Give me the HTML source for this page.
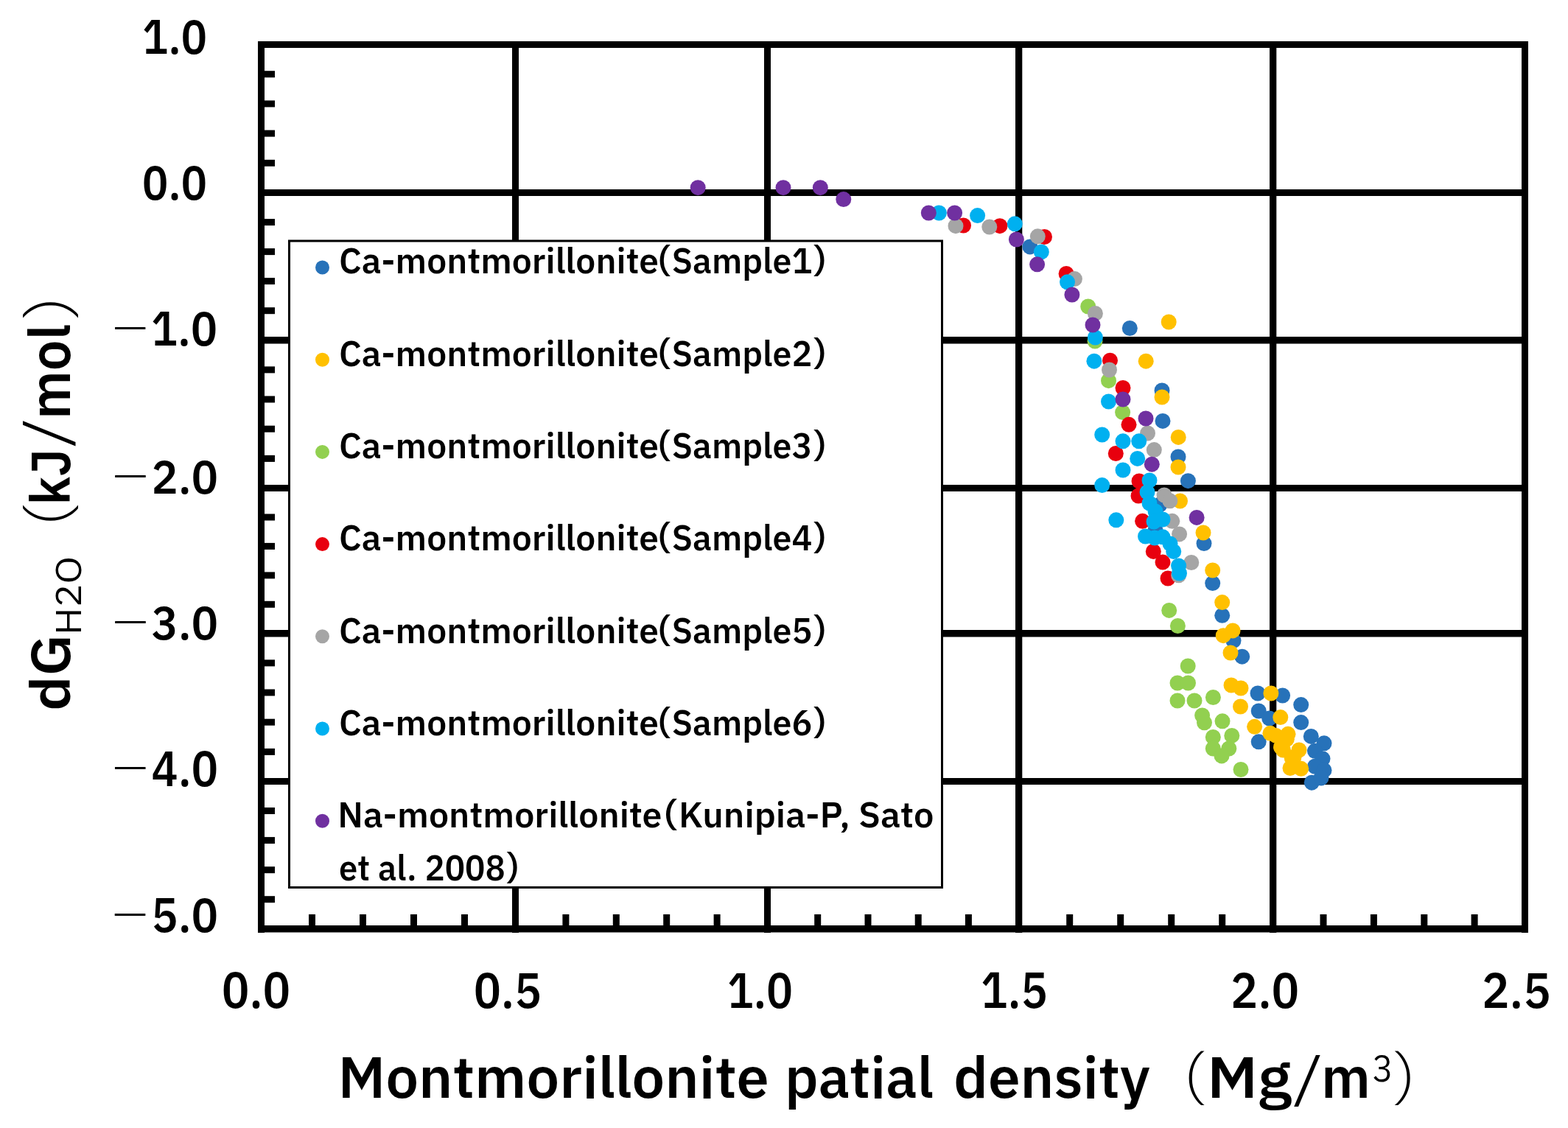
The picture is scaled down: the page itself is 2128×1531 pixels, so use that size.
<!DOCTYPE html><html><head><meta charset="utf-8"><title>dG H2O vs montmorillonite partial density</title>
<style>html,body{margin:0;padding:0;background:#fff;overflow:hidden}svg{display:block}text{fill:#000}</style></head><body>
<svg width="2128" height="1531" viewBox="0 0 2128 1531">
<rect x="0" y="0" width="2128" height="1531" fill="#fff"/>
<g fill="#000">
<rect x="350" y="56" width="1724" height="9"/>
<rect x="350" y="257" width="1724" height="9"/>
<rect x="350" y="457" width="1724" height="9.5"/>
<rect x="350" y="658" width="1724" height="9"/>
<rect x="350" y="855" width="1724" height="9.5"/>
<rect x="350" y="1056" width="1724" height="9"/>
<rect x="350" y="1256" width="1724" height="9.5"/>
<rect x="350" y="56" width="9" height="1210"/>
<rect x="695" y="56" width="9" height="1210"/>
<rect x="1037" y="56" width="9" height="1210"/>
<rect x="1378" y="56" width="9.3" height="1210"/>
<rect x="1723" y="56" width="9.3" height="1210"/>
<rect x="2065" y="56" width="9" height="1210"/>
<rect x="359" y="96.2" width="14" height="9"/>
<rect x="359" y="136.4" width="14" height="9"/>
<rect x="359" y="176.6" width="14" height="9"/>
<rect x="359" y="216.8" width="14" height="9"/>
<rect x="359" y="297.1" width="14" height="9"/>
<rect x="359" y="337.1" width="14" height="9"/>
<rect x="359" y="377.1" width="14" height="9"/>
<rect x="359" y="417.2" width="14" height="9"/>
<rect x="359" y="497.4" width="14" height="9"/>
<rect x="359" y="537.5" width="14" height="9"/>
<rect x="359" y="577.7" width="14" height="9"/>
<rect x="359" y="617.9" width="14" height="9"/>
<rect x="359" y="697.5" width="14" height="9"/>
<rect x="359" y="736.9" width="14" height="9"/>
<rect x="359" y="776.4" width="14" height="9"/>
<rect x="359" y="815.8" width="14" height="9"/>
<rect x="359" y="895.4" width="14" height="9"/>
<rect x="359" y="935.5" width="14" height="9"/>
<rect x="359" y="975.7" width="14" height="9"/>
<rect x="359" y="1015.9" width="14" height="9"/>
<rect x="359" y="1096.0" width="14" height="9"/>
<rect x="359" y="1136.1" width="14" height="9"/>
<rect x="359" y="1176.2" width="14" height="9"/>
<rect x="359" y="1216.2" width="14" height="9"/>
<rect x="419.0" y="1241" width="9" height="15"/>
<rect x="488.0" y="1241" width="9" height="15"/>
<rect x="557.0" y="1241" width="9" height="15"/>
<rect x="626.0" y="1241" width="9" height="15"/>
<rect x="763.4" y="1241" width="9" height="15"/>
<rect x="831.8" y="1241" width="9" height="15"/>
<rect x="900.2" y="1241" width="9" height="15"/>
<rect x="968.6" y="1241" width="9" height="15"/>
<rect x="1105.2" y="1241" width="9" height="15"/>
<rect x="1173.5" y="1241" width="9" height="15"/>
<rect x="1241.7" y="1241" width="9" height="15"/>
<rect x="1309.9" y="1241" width="9" height="15"/>
<rect x="1447.2" y="1241" width="9" height="15"/>
<rect x="1516.2" y="1241" width="9" height="15"/>
<rect x="1585.2" y="1241" width="9" height="15"/>
<rect x="1654.2" y="1241" width="9" height="15"/>
<rect x="1791.5" y="1241" width="9" height="15"/>
<rect x="1859.9" y="1241" width="9" height="15"/>
<rect x="1928.3" y="1241" width="9" height="15"/>
<rect x="1996.6" y="1241" width="9" height="15"/>
</g>
<g fill="#2772b9">
<circle cx="1397.8" cy="334.9" r="10.5"/>
<circle cx="1533.3" cy="445.5" r="10.5"/>
<circle cx="1577" cy="530" r="10.5"/>
<circle cx="1578" cy="571.4" r="10.5"/>
<circle cx="1599" cy="620" r="10.5"/>
<circle cx="1612.4" cy="652.7" r="10.5"/>
<circle cx="1574" cy="685" r="10.5"/>
<circle cx="1568" cy="720" r="10.5"/>
<circle cx="1634" cy="737.6" r="10.5"/>
<circle cx="1645.7" cy="791.6" r="10.5"/>
<circle cx="1658.7" cy="835.3" r="10.5"/>
<circle cx="1674" cy="869.6" r="10.5"/>
<circle cx="1685.7" cy="891.2" r="10.5"/>
<circle cx="1707" cy="941" r="10.5"/>
<circle cx="1740.6" cy="944" r="10.5"/>
<circle cx="1765.7" cy="956.6" r="10.5"/>
<circle cx="1708.2" cy="965" r="10.5"/>
<circle cx="1722.7" cy="975" r="10.5"/>
<circle cx="1765.7" cy="980.6" r="10.5"/>
<circle cx="1708.2" cy="1006.8" r="10.5"/>
<circle cx="1779.3" cy="999.4" r="10.5"/>
<circle cx="1797" cy="1008.8" r="10.5"/>
<circle cx="1784.5" cy="1019.3" r="10.5"/>
<circle cx="1795" cy="1029.8" r="10.5"/>
<circle cx="1784.5" cy="1040.2" r="10.5"/>
<circle cx="1797" cy="1045.4" r="10.5"/>
<circle cx="1780.3" cy="1062.2" r="10.5"/>
<circle cx="1793" cy="1055.9" r="10.5"/>
</g>
<g fill="#ffc000">
<circle cx="1586.2" cy="437" r="10.5"/>
<circle cx="1555.2" cy="490.2" r="10.5"/>
<circle cx="1577" cy="539" r="10.5"/>
<circle cx="1599.2" cy="593.4" r="10.5"/>
<circle cx="1599" cy="634" r="10.5"/>
<circle cx="1601.5" cy="680" r="10.5"/>
<circle cx="1633" cy="723" r="10.5"/>
<circle cx="1645.7" cy="774" r="10.5"/>
<circle cx="1658.7" cy="817.6" r="10.5"/>
<circle cx="1660.2" cy="862.7" r="10.5"/>
<circle cx="1673" cy="855.9" r="10.5"/>
<circle cx="1670" cy="886" r="10.5"/>
<circle cx="1671" cy="930" r="10.5"/>
<circle cx="1684" cy="934" r="10.5"/>
<circle cx="1683.5" cy="959" r="10.5"/>
<circle cx="1724.9" cy="941" r="10.5"/>
<circle cx="1702.6" cy="986.3" r="10.5"/>
<circle cx="1737.8" cy="973.6" r="10.5"/>
<circle cx="1723.9" cy="995.3" r="10.5"/>
<circle cx="1748" cy="996.3" r="10.5"/>
<circle cx="1738.5" cy="1014" r="10.5"/>
<circle cx="1763" cy="1018" r="10.5"/>
<circle cx="1753.2" cy="1028.7" r="10.5"/>
<circle cx="1765.7" cy="1043.3" r="10.5"/>
<circle cx="1741.4" cy="1018" r="10.5"/>
<circle cx="1731.6" cy="998.4" r="10.5"/>
<circle cx="1746.3" cy="1003.3" r="10.5"/>
<circle cx="1756" cy="1027.8" r="10.5"/>
<circle cx="1751" cy="1042.5" r="10.5"/>
</g>
<g fill="#92d050">
<circle cx="1476.7" cy="416" r="10.5"/>
<circle cx="1486" cy="463" r="10.5"/>
<circle cx="1504.5" cy="516.7" r="10.5"/>
<circle cx="1523.6" cy="559.6" r="10.5"/>
<circle cx="1586.7" cy="828.4" r="10.5"/>
<circle cx="1598.4" cy="849.5" r="10.5"/>
<circle cx="1612.2" cy="904" r="10.5"/>
<circle cx="1598" cy="927" r="10.5"/>
<circle cx="1612.5" cy="927" r="10.5"/>
<circle cx="1598" cy="951" r="10.5"/>
<circle cx="1621" cy="951" r="10.5"/>
<circle cx="1646.4" cy="946.5" r="10.5"/>
<circle cx="1631.6" cy="971" r="10.5"/>
<circle cx="1634.5" cy="980.8" r="10.5"/>
<circle cx="1659" cy="978.8" r="10.5"/>
<circle cx="1646.3" cy="1000.4" r="10.5"/>
<circle cx="1671.8" cy="998.4" r="10.5"/>
<circle cx="1646.3" cy="1016" r="10.5"/>
<circle cx="1667.8" cy="1016" r="10.5"/>
<circle cx="1658" cy="1025.9" r="10.5"/>
<circle cx="1684" cy="1044.5" r="10.5"/>
</g>
<g fill="#e8000e">
<circle cx="1307.5" cy="306" r="10.5"/>
<circle cx="1356.9" cy="306.7" r="10.5"/>
<circle cx="1417.5" cy="321.5" r="10.5"/>
<circle cx="1447.1" cy="371.5" r="10.5"/>
<circle cx="1506.5" cy="489.2" r="10.5"/>
<circle cx="1524" cy="526.5" r="10.5"/>
<circle cx="1532" cy="576.3" r="10.5"/>
<circle cx="1514.3" cy="615.5" r="10.5"/>
<circle cx="1546" cy="653" r="10.5"/>
<circle cx="1545" cy="673" r="10.5"/>
<circle cx="1550.6" cy="707.3" r="10.5"/>
<circle cx="1565.3" cy="748.4" r="10.5"/>
<circle cx="1578" cy="763.1" r="10.5"/>
<circle cx="1585" cy="785" r="10.5"/>
</g>
<g fill="#a5a5a5">
<circle cx="1297" cy="306.7" r="10.5"/>
<circle cx="1342.8" cy="308" r="10.5"/>
<circle cx="1408.3" cy="320.8" r="10.5"/>
<circle cx="1458.4" cy="378.6" r="10.5"/>
<circle cx="1486.4" cy="425.5" r="10.5"/>
<circle cx="1505.5" cy="502" r="10.5"/>
<circle cx="1557.5" cy="588" r="10.5"/>
<circle cx="1566.3" cy="610.6" r="10.5"/>
<circle cx="1580" cy="672" r="10.5"/>
<circle cx="1587.8" cy="679.8" r="10.5"/>
<circle cx="1590.8" cy="707.3" r="10.5"/>
<circle cx="1600.6" cy="724.9" r="10.5"/>
<circle cx="1616.8" cy="763.5" r="10.5"/>
<circle cx="1599.6" cy="780.8" r="10.5"/>
</g>
<g fill="#00b0f0">
<circle cx="1274.4" cy="289" r="10.5"/>
<circle cx="1326.6" cy="292.6" r="10.5"/>
<circle cx="1377.3" cy="303.8" r="10.5"/>
<circle cx="1413.3" cy="341.9" r="10.5"/>
<circle cx="1448.5" cy="382.8" r="10.5"/>
<circle cx="1486.4" cy="458" r="10.5"/>
<circle cx="1484.9" cy="490.2" r="10.5"/>
<circle cx="1504.5" cy="545" r="10.5"/>
<circle cx="1495.7" cy="590" r="10.5"/>
<circle cx="1524" cy="598.8" r="10.5"/>
<circle cx="1545.7" cy="598.8" r="10.5"/>
<circle cx="1543.7" cy="622.4" r="10.5"/>
<circle cx="1524" cy="638" r="10.5"/>
<circle cx="1495.7" cy="658.6" r="10.5"/>
<circle cx="1560" cy="652" r="10.5"/>
<circle cx="1557" cy="668" r="10.5"/>
<circle cx="1514.8" cy="705.8" r="10.5"/>
<circle cx="1560" cy="683" r="10.5"/>
<circle cx="1568" cy="694" r="10.5"/>
<circle cx="1578" cy="705" r="10.5"/>
<circle cx="1566" cy="708" r="10.5"/>
<circle cx="1554.5" cy="728" r="10.5"/>
<circle cx="1567" cy="730" r="10.5"/>
<circle cx="1578" cy="728.8" r="10.5"/>
<circle cx="1588" cy="738" r="10.5"/>
<circle cx="1592.7" cy="748.4" r="10.5"/>
<circle cx="1599.6" cy="768" r="10.5"/>
<circle cx="1600.5" cy="778" r="10.5"/>
</g>
<g fill="#7030a0">
<circle cx="947.2" cy="254.7" r="10.5"/>
<circle cx="1063" cy="254.7" r="10.5"/>
<circle cx="1113.3" cy="254.7" r="10.5"/>
<circle cx="1144.8" cy="270.6" r="10.5"/>
<circle cx="1260.3" cy="289" r="10.5"/>
<circle cx="1295.6" cy="289" r="10.5"/>
<circle cx="1379.4" cy="325" r="10.5"/>
<circle cx="1407.6" cy="358.8" r="10.5"/>
<circle cx="1454.9" cy="400" r="10.5"/>
<circle cx="1483" cy="441" r="10.5"/>
<circle cx="1524" cy="542" r="10.5"/>
<circle cx="1555" cy="568" r="10.5"/>
<circle cx="1563.3" cy="630.2" r="10.5"/>
<circle cx="1624.1" cy="702.4" r="10.5"/>
</g>
<rect x="392.5" y="327" width="886" height="877.5" fill="#fff" stroke="#000" stroke-width="3"/>
<circle cx="437.5" cy="363.0" r="9.5" fill="#2772b9"/>
<circle cx="437.5" cy="488.2" r="9.5" fill="#ffc000"/>
<circle cx="437.5" cy="613.4" r="9.5" fill="#92d050"/>
<circle cx="437.5" cy="738.6" r="9.5" fill="#e8000e"/>
<circle cx="437.5" cy="863.8" r="9.5" fill="#a5a5a5"/>
<circle cx="437.5" cy="989.0" r="9.5" fill="#00b0f0"/>
<circle cx="437.5" cy="1114.2" r="9.5" fill="#7030a0"/>
<text x="193.0" y="73.0" textLength="88.0" lengthAdjust="spacingAndGlyphs" style='font-family:"IBM Plex Sans JP","DejaVu Sans","Liberation Sans",sans-serif;font-size:62.35px;font-weight:600'>1.0</text>
<text x="193.0" y="271.0" textLength="88.0" lengthAdjust="spacingAndGlyphs" style='font-family:"IBM Plex Sans JP","DejaVu Sans","Liberation Sans",sans-serif;font-size:62.21px;font-weight:600'>0.0</text>
<text x="148.0" y="469.0" textLength="147.0" lengthAdjust="spacingAndGlyphs" style='font-family:"IBM Plex Sans JP","DejaVu Sans","Liberation Sans",sans-serif;font-size:62.35px;font-weight:600'><tspan style="font-weight:300">−</tspan>1.0</text>
<text x="148.0" y="670.0" textLength="148.0" lengthAdjust="spacingAndGlyphs" style='font-family:"IBM Plex Sans JP","DejaVu Sans","Liberation Sans",sans-serif;font-size:61.13px;font-weight:600'><tspan style="font-weight:300">−</tspan>2.0</text>
<text x="148.0" y="868.0" textLength="148.0" lengthAdjust="spacingAndGlyphs" style='font-family:"IBM Plex Sans JP","DejaVu Sans","Liberation Sans",sans-serif;font-size:61.06px;font-weight:600'><tspan style="font-weight:300">−</tspan>3.0</text>
<text x="148.0" y="1067.0" textLength="148.0" lengthAdjust="spacingAndGlyphs" style='font-family:"IBM Plex Sans JP","DejaVu Sans","Liberation Sans",sans-serif;font-size:64.32px;font-weight:600'><tspan style="font-weight:300">−</tspan>4.0</text>
<text x="148.0" y="1265.0" textLength="148.0" lengthAdjust="spacingAndGlyphs" style='font-family:"IBM Plex Sans JP","DejaVu Sans","Liberation Sans",sans-serif;font-size:61.95px;font-weight:600'><tspan style="font-weight:300">−</tspan>5.0</text>
<text x="301.0" y="1368.0" textLength="93.0" lengthAdjust="spacingAndGlyphs" style='font-family:"IBM Plex Sans JP","DejaVu Sans","Liberation Sans",sans-serif;font-size:65.28px;font-weight:600'>0.0</text>
<text x="643.0" y="1368.0" textLength="92.0" lengthAdjust="spacingAndGlyphs" style='font-family:"IBM Plex Sans JP","DejaVu Sans","Liberation Sans",sans-serif;font-size:64.35px;font-weight:600'>0.5</text>
<text x="987.0" y="1368.0" textLength="89.0" lengthAdjust="spacingAndGlyphs" style='font-family:"IBM Plex Sans JP","DejaVu Sans","Liberation Sans",sans-serif;font-size:64.27px;font-weight:600'>1.0</text>
<text x="1331.0" y="1368.0" textLength="91.0" lengthAdjust="spacingAndGlyphs" style='font-family:"IBM Plex Sans JP","DejaVu Sans","Liberation Sans",sans-serif;font-size:65.56px;font-weight:600'>1.5</text>
<text x="1670.0" y="1368.0" textLength="93.0" lengthAdjust="spacingAndGlyphs" style='font-family:"IBM Plex Sans JP","DejaVu Sans","Liberation Sans",sans-serif;font-size:64.43px;font-weight:600'>2.0</text>
<text x="2011.0" y="1368.0" textLength="94.0" lengthAdjust="spacingAndGlyphs" style='font-family:"IBM Plex Sans JP","DejaVu Sans","Liberation Sans",sans-serif;font-size:64.43px;font-weight:600'>2.5</text>
<text x="460.1" y="371.0" textLength="433.9" lengthAdjust="spacingAndGlyphs" style='font-family:"IBM Plex Sans JP","Noto Sans CJK JP","Liberation Sans",sans-serif;font-size:47.00px;font-weight:600'>Ca-montmorillonite</text>
<text x="867.5" y="371.0" textLength="279.2" lengthAdjust="spacingAndGlyphs" style='font-family:"IBM Plex Sans JP","Noto Sans CJK JP","Liberation Sans",sans-serif;font-size:47.00px;font-weight:600'>（Sample1）</text>
<text x="460.1" y="497.0" textLength="433.9" lengthAdjust="spacingAndGlyphs" style='font-family:"IBM Plex Sans JP","Noto Sans CJK JP","Liberation Sans",sans-serif;font-size:47.00px;font-weight:600'>Ca-montmorillonite</text>
<text x="867.5" y="497.0" textLength="279.2" lengthAdjust="spacingAndGlyphs" style='font-family:"IBM Plex Sans JP","Noto Sans CJK JP","Liberation Sans",sans-serif;font-size:47.00px;font-weight:600'>（Sample2）</text>
<text x="460.1" y="622.0" textLength="433.9" lengthAdjust="spacingAndGlyphs" style='font-family:"IBM Plex Sans JP","Noto Sans CJK JP","Liberation Sans",sans-serif;font-size:47.00px;font-weight:600'>Ca-montmorillonite</text>
<text x="867.5" y="622.0" textLength="279.2" lengthAdjust="spacingAndGlyphs" style='font-family:"IBM Plex Sans JP","Noto Sans CJK JP","Liberation Sans",sans-serif;font-size:47.00px;font-weight:600'>（Sample3）</text>
<text x="460.1" y="747.0" textLength="433.9" lengthAdjust="spacingAndGlyphs" style='font-family:"IBM Plex Sans JP","Noto Sans CJK JP","Liberation Sans",sans-serif;font-size:47.00px;font-weight:600'>Ca-montmorillonite</text>
<text x="867.5" y="747.0" textLength="279.2" lengthAdjust="spacingAndGlyphs" style='font-family:"IBM Plex Sans JP","Noto Sans CJK JP","Liberation Sans",sans-serif;font-size:47.00px;font-weight:600'>（Sample4）</text>
<text x="460.1" y="873.0" textLength="433.9" lengthAdjust="spacingAndGlyphs" style='font-family:"IBM Plex Sans JP","Noto Sans CJK JP","Liberation Sans",sans-serif;font-size:47.00px;font-weight:600'>Ca-montmorillonite</text>
<text x="867.5" y="873.0" textLength="279.2" lengthAdjust="spacingAndGlyphs" style='font-family:"IBM Plex Sans JP","Noto Sans CJK JP","Liberation Sans",sans-serif;font-size:47.00px;font-weight:600'>（Sample5）</text>
<text x="460.1" y="998.0" textLength="433.9" lengthAdjust="spacingAndGlyphs" style='font-family:"IBM Plex Sans JP","Noto Sans CJK JP","Liberation Sans",sans-serif;font-size:47.00px;font-weight:600'>Ca-montmorillonite</text>
<text x="867.5" y="998.0" textLength="279.2" lengthAdjust="spacingAndGlyphs" style='font-family:"IBM Plex Sans JP","Noto Sans CJK JP","Liberation Sans",sans-serif;font-size:47.00px;font-weight:600'>（Sample6）</text>
<text x="458.3" y="1123.0" textLength="440.2" lengthAdjust="spacingAndGlyphs" style='font-family:"IBM Plex Sans JP","Noto Sans CJK JP","Liberation Sans",sans-serif;font-size:47.00px;font-weight:600'>Na-montmorillonite</text>
<text x="874.6" y="1123.0" textLength="392.8" lengthAdjust="spacingAndGlyphs" style='font-family:"IBM Plex Sans JP","Noto Sans CJK JP","Liberation Sans",sans-serif;font-size:47.00px;font-weight:600'>（Kunipia-P, Sato</text>
<text x="460.0" y="1195.2" textLength="269.1" lengthAdjust="spacingAndGlyphs" style='font-family:"IBM Plex Sans JP","Noto Sans CJK JP","Liberation Sans",sans-serif;font-size:47.00px;font-weight:600'>et al. 2008）</text>
<text x="458.6" y="1490.0" textLength="585.1" lengthAdjust="spacingAndGlyphs" style='font-family:"IBM Plex Sans JP","Noto Sans CJK JP","Liberation Sans",sans-serif;font-size:74.55px;font-weight:600'>Montmorillonite</text>
<text x="1065.0" y="1490.0" textLength="202.0" lengthAdjust="spacingAndGlyphs" style='font-family:"IBM Plex Sans JP","Noto Sans CJK JP","Liberation Sans",sans-serif;font-size:74.55px;font-weight:600'>patial</text>
<text x="1294.0" y="1490.0" textLength="267.0" lengthAdjust="spacingAndGlyphs" style='font-family:"IBM Plex Sans JP","Noto Sans CJK JP","Liberation Sans",sans-serif;font-size:74.55px;font-weight:600'>density</text>
<text x="1638.0" y="1490.0" textLength="115.0" lengthAdjust="spacingAndGlyphs" style='font-family:"IBM Plex Sans JP","Noto Sans CJK JP","Liberation Sans",sans-serif;font-size:74.55px;font-weight:600'>Mg</text>
<text x="1793.0" y="1490.0" textLength="67.0" lengthAdjust="spacingAndGlyphs" style='font-family:"IBM Plex Sans JP","Noto Sans CJK JP","Liberation Sans",sans-serif;font-size:74.55px;font-weight:600'>m</text>
<text x="1558.7" y="1494.2" style='font-family:"IBM Plex Sans JP","Noto Sans CJK JP","Liberation Sans",sans-serif;font-size:81.30px;font-weight:300'>（</text>
<text x="1754.7" y="1490.0" textLength="41.8" lengthAdjust="spacingAndGlyphs" style='font-family:"IBM Plex Sans JP","Noto Sans CJK JP","Liberation Sans",sans-serif;font-size:74.55px;font-weight:300'>/</text>
<text x="1861.8" y="1499.0" textLength="28.7" lengthAdjust="spacingAndGlyphs" style='font-family:"IBM Plex Sans JP","Noto Sans CJK JP","Liberation Sans",sans-serif;font-size:90.10px;font-weight:300'>³</text>
<text x="1887.2" y="1494.2" style='font-family:"IBM Plex Sans JP","Noto Sans CJK JP","Liberation Sans",sans-serif;font-size:81.30px;font-weight:300'>）</text>
<g transform="translate(96,961.4) rotate(-90)">
<text x="-3.6" y="-1.0" textLength="103.9" lengthAdjust="spacingAndGlyphs" style='font-family:"IBM Plex Sans JP","Noto Sans CJK JP","Liberation Sans",sans-serif;font-size:70.39px;font-weight:600'>dG</text>
<text x="99.5" y="13.8" textLength="106.9" lengthAdjust="spacingAndGlyphs" style='font-family:"IBM Plex Sans JP","Noto Sans CJK JP","Liberation Sans",sans-serif;font-size:47.23px;font-weight:400'>H2O</text>
<text x="198.7" y="3.7" style='font-family:"IBM Plex Sans JP","Noto Sans CJK JP","Liberation Sans",sans-serif;font-size:82.98px;font-weight:300'>（</text>
<text x="276.0" y="-1.0" textLength="76.3" lengthAdjust="spacingAndGlyphs" style='font-family:"IBM Plex Sans JP","Noto Sans CJK JP","Liberation Sans",sans-serif;font-size:70.39px;font-weight:600'>kJ</text>
<text x="354.5" y="-6.4" textLength="40.5" lengthAdjust="spacingAndGlyphs" style='font-family:"IBM Plex Sans JP","Noto Sans CJK JP","Liberation Sans",sans-serif;font-size:75.45px;font-weight:300'>/</text>
<text x="392.3" y="-1.0" textLength="129.5" lengthAdjust="spacingAndGlyphs" style='font-family:"IBM Plex Sans JP","Noto Sans CJK JP","Liberation Sans",sans-serif;font-size:75.27px;font-weight:600'>mol</text>
<text x="524.2" y="3.7" style='font-family:"IBM Plex Sans JP","Noto Sans CJK JP","Liberation Sans",sans-serif;font-size:82.98px;font-weight:300'>）</text>
</g>
</svg></body></html>
